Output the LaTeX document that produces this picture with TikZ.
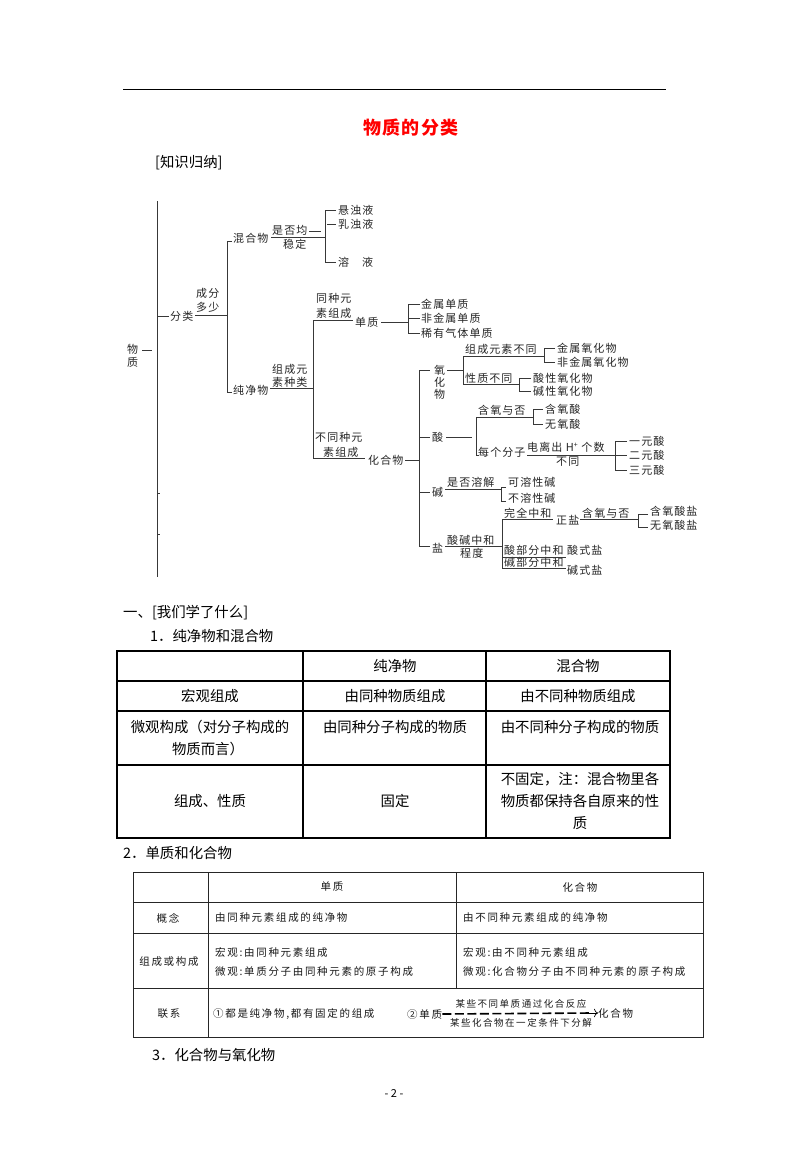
\documentclass[tikz,border=0pt]{standalone}
\usepackage{fontspec}
\setmainfont{Noto Sans CJK SC}
\usetikzlibrary{arrows.meta}
\begin{document}
\begin{tikzpicture}[x=1pt,y=-1pt,
  tl/.style={line width=0.8pt, draw=black!78},
  tr/.style={inner sep=0pt, anchor=west, text=black!85, font=\fontsize{11}{12}\selectfont\addfontfeature{LetterSpace=10}},
  tbl/.style={line width=1.1pt, draw=black},
  tbm/.style={line width=0.9pt, draw=black!85},
  ta/.style={inner sep=0pt, font=\fontsize{14.4}{16}\selectfont},
  taw/.style={ta, anchor=west},
  tb/.style={inner sep=0pt, text=black!90, font=\fontsize{10.5}{12}\selectfont\addfontfeature{LetterSpace=16}},
  tbw/.style={tb, anchor=west},
  tc/.style={inner sep=0pt, text=black!90, font=\fontsize{9.5}{11}\selectfont\addfontfeature{LetterSpace=16}},
]
\fill[white] (0,0) rectangle (788,1170);
\useasboundingbox (0,0) rectangle (788,1170);

% header
\draw[line width=1pt] (123,89) -- (666,89);
\node[inner sep=0pt, text=red, font=\fontsize{18}{20}\selectfont\bfseries\addfontfeature{LetterSpace=8}] (title) at (411,128) {物质的分类};
\node[taw] (zsgn) at (155,163) {[知识归纳]};

% ---------- tree ----------
\node[tr] (wu) at (127,349) {物};
\node[tr] (zhi) at (127,362) {质};
\node[tr] (fl) at (170,316) {分类};
\node[tr] (cf) at (196,293) {成分};
\node[tr] (ds) at (196,307) {多少};
\node[tr] (hhw1) at (233,238) {混合物};
\node[tr] (cjw) at (233,390) {纯净物};
\node[tr] (sfj) at (272,230) {是否均};
\node[tr] (wd) at (283,244) {稳定};
\node[tr] (xzy) at (338,210) {悬浊液};
\node[tr] (rzy) at (338,224) {乳浊液};
\node[tr] (ry) at (338,262) {溶\hspace{13pt}液};
\node[tr] (zcy) at (272,369) {组成元};
\node[tr] (szl) at (272,382) {素种类};
\node[tr] (tzy) at (316,298) {同种元};
\node[tr] (szc1) at (316,313) {素组成};
\node[tr] (dz1) at (355,322) {单质};
\node[tr] (jsdz) at (421,304) {金属单质};
\node[tr] (fjsdz) at (421,318) {非金属单质};
\node[tr] (xyqt) at (421,333) {稀有气体单质};
\node[tr] (btzy) at (315,437) {不同种元};
\node[tr] (szc2) at (323,452) {素组成};
\node[tr] (hhw2) at (368,460) {化合物};
\node[tr] (yang) at (434,370) {氧};
\node[tr] (hua) at (434,382) {化};
\node[tr] (wu2) at (434,394) {物};
\node[tr] (zcys) at (465,349) {组成元素不同};
\node[tr] (xzbt) at (465,378) {性质不同};
\node[tr] (jsyhw) at (557,348) {金属氧化物};
\node[tr] (fjsyhw) at (557,362) {非金属氧化物};
\node[tr] (sxyhw) at (533,378) {酸性氧化物};
\node[tr] (jxyhw) at (533,391) {碱性氧化物};
\node[tr] (suan) at (432,437) {酸};
\node[tr] (hyyf1) at (478,410) {含氧与否};
\node[tr] (hys) at (545,409) {含氧酸};
\node[tr] (wys) at (545,424) {无氧酸};
\node[tr] (mgfz) at (478,452) {每个分子};
\node[tr] (dlc) at (527,447) {电离出 H\raisebox{3.5pt}{\fontsize{7}{7}\selectfont +} 个数};
\node[tr] (bt) at (556,462) {不同};
\node[tr] (yys) at (629,441) {一元酸};
\node[tr] (eys) at (629,455) {二元酸};
\node[tr] (sys) at (629,470) {三元酸};
\node[tr] (jian) at (432,492) {碱};
\node[tr] (sfrj) at (447,482) {是否溶解};
\node[tr] (krxj) at (508,482) {可溶性碱};
\node[tr] (brxj) at (508,498) {不溶性碱};
\node[tr] (yan) at (432,548) {盐};
\node[tr] (sjzh) at (447,540) {酸碱中和};
\node[tr] (cd) at (460,553) {程度};
\node[tr] (wqzh) at (504,513) {完全中和};
\node[tr] (zy) at (556,520) {正盐};
\node[tr] (hyyf2) at (582,513) {含氧与否};
\node[tr] (hysy) at (650,511) {含氧酸盐};
\node[tr] (wysy) at (650,525) {无氧酸盐};
\node[tr] (sbf) at (504,550) {酸部分中和};
\node[tr] (ssy) at (567,550) {酸式盐};
\node[tr] (jbf) at (504,562) {碱部分中和};
\node[tr] (jsy) at (567,570) {碱式盐};

% tree lines
\draw[tl] (157,201) -- (157,577);
\draw[tl] (157,493) -- (160,493);
\draw[tl] (157,534) -- (160,534);
\draw[tl] (142,350) -- (152,350);
\draw[tl] (158,316) -- (169,316);
\draw[tl] (195,315) -- (227,315);
\draw[tl] (232,241) -- (227,241) -- (227,392) -- (232,392);
\draw[tl] (271,237) -- (325,237);
\draw[tl] (309,231) -- (321,231);
\draw[tl] (336,210) -- (325,210) -- (325,262) -- (336,262);
\draw[tl] (327,224) -- (336,224);
\draw[tl] (270,388) -- (313,388);
\draw[tl] (313,320) -- (313,458);
\draw[tl] (313,320) -- (353,320);
\draw[tl] (381,322) -- (408,322);
\draw[tl] (420,304) -- (408,304) -- (408,333) -- (420,333);
\draw[tl] (408,318) -- (420,318);
\draw[tl] (313,458) -- (365,458);
\draw[tl] (405,460) -- (419,460);
\draw[tl] (419,370) -- (419,546);
\draw[tl] (419,370) -- (430,370);
\draw[tl] (419,437) -- (430,437);
\draw[tl] (419,492) -- (430,492);
\draw[tl] (419,546) -- (430,546);
% oxide
\draw[tl] (447,370) -- (463,370);
\draw[tl] (463,356) -- (463,384);
\draw[tl] (463,356) -- (544,356);
\draw[tl] (463,384) -- (519,384);
\draw[tl] (555,348) -- (544,348) -- (544,362) -- (555,362);
\draw[tl] (531,378) -- (519,378) -- (519,391) -- (531,391);
% acid
\draw[tl] (446,437) -- (472,437);
\draw[tl] (476,417) -- (476,455) -- (479,455);
\draw[tl] (476,417) -- (533,417);
\draw[tl] (543,409) -- (533,409) -- (533,424) -- (543,424);
\draw[tl] (527,455) -- (627,455);
\draw[tl] (627,441) -- (615,441) -- (615,470) -- (627,470);
% base
\draw[tl] (445,489) -- (501,489);
\draw[tl] (506,487) -- (501,487) -- (501,501) -- (506,501);
% salt
\draw[tl] (445,546) -- (502,546);
\draw[tl] (502,519) -- (502,568);
\draw[tl] (502,519) -- (553,519);
\draw[tl] (580,519) -- (638,519);
\draw[tl] (648,514) -- (638,514) -- (638,527) -- (648,527);
\draw[tl] (502,557) -- (566,557);
\draw[tl] (502,568) -- (566,568);

% ---------- section 1 ----------
\node[taw] (s1) at (123,613) {一、[我们学了什么]};
\node[taw] (s11) at (150,636) {1．纯净物和混合物};
\draw[tbl] (117,651) rectangle (670,838);
\draw[tbl] (117,681) -- (670,681);
\draw[tbl] (117,711) -- (670,711);
\draw[tbl] (117,765) -- (670,765);
\draw[tbl] (303,651) -- (303,838);
\draw[tbl] (486,651) -- (486,838);
\node[ta] (h1) at (395,666) {纯净物};
\node[ta] (h2) at (578,666) {混合物};
\node[ta] (r1a) at (210,696) {宏观组成};
\node[ta] (r1b) at (395,696) {由同种物质组成};
\node[ta] (r1c) at (578,696) {由不同种物质组成};
\node[ta] (r2a1) at (210,727) {微观构成（对分子构成的};
\node[ta] (r2a2) at (208,749) {物质而言）};
\node[ta] (r2b) at (395,727) {由同种分子构成的物质};
\node[ta] (r2c) at (580,727) {由不同种分子构成的物质};
\node[ta] (r3a) at (210,801) {组成、性质};
\node[ta] (r3b) at (395,801) {固定};
\node[ta] (r3c1) at (580,779) {不固定，注：混合物里各};
\node[ta] (r3c2) at (580,801) {物质都保持各自原来的性};
\node[ta] (r3c3) at (580,823) {质};

% ---------- section 2 ----------
\node[taw] (s2) at (123,853) {2．单质和化合物};
\draw[tbm] (133,872) rectangle (703,1037);
\draw[tbm] (133,902) -- (703,902);
\draw[tbm] (133,933) -- (703,933);
\draw[tbm] (133,988) -- (703,988);
\draw[tbm] (208,872) -- (208,1037);
\draw[tbm] (456,872) -- (456,988);
\node[tb] (g1) at (332,887) {单质};
\node[tb] (g2) at (580,887) {化合物};
\node[tb] (gn) at (168,918) {概念};
\node[tbw] (gn1) at (215,918) {由同种元素组成的纯净物};
\node[tbw] (gn2) at (463,918) {由不同种元素组成的纯净物};
\node[tb] (zc) at (169,962) {组成或构成};
\node[tbw] (zc1) at (215,952) {宏观:由同种元素组成};
\node[tbw] (zc2) at (215,972) {微观:单质分子由同种元素的原子构成};
\node[tbw] (zc3) at (463,952) {宏观:由不同种元素组成};
\node[tbw] (zc4) at (463,972) {微观:化合物分子由不同种元素的原子构成};
\node[tb] (lx) at (169,1014) {联系};
\node[tbw] (lx1) at (213,1014) {①都是纯净物,都有固定的组成};
\node[tbw] (dz) at (407,1014) {②单质};
\node[tbw] (hhw) at (598,1013) {化合物};
\draw[line width=1.6pt, dash pattern=on 9pt off 3.5pt] (dz.east) -- ([xshift=-7pt]hhw.west);
\draw[line width=0.7pt, -{To[length=4pt]}] ([xshift=-10pt]hhw.west) -- (hhw.west);
\node[tc] (up) at (521,1004) {某些不同单质通过化合反应};
\node[tc] (dn) at (521,1023) {某些化合物在一定条件下分解};

\node[taw] (s3) at (152,1055) {3．化合物与氧化物};
\node[inner sep=0pt, font=\fontsize{11}{12}\selectfont] (pg) at (394,1093) {- 2 -};
\end{tikzpicture}
\end{document}
